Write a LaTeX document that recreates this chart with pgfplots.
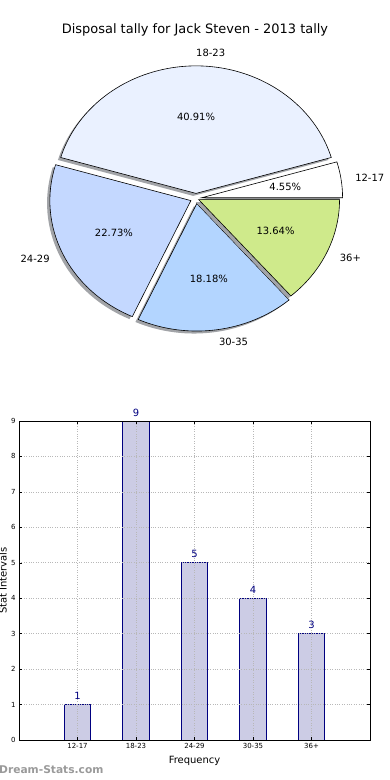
\documentclass[border=0pt]{standalone}
\usepackage{pgfplots}
\pgfplotsset{compat=1.18}
\usepackage{pgfplotstable}
\usepackage{fontspec}
\setmainfont{DejaVu Sans}
\definecolor{w1}{HTML}{FFFFFF}
\definecolor{w2}{HTML}{EAF1FF}
\definecolor{w3}{HTML}{C4D8FF}
\definecolor{w4}{HTML}{B3D5FF}
\definecolor{w5}{HTML}{CFEA8B}
\definecolor{shadowc}{HTML}{A2A4A8}
\definecolor{barfill}{HTML}{CCCCE5}
\definecolor{navy}{HTML}{000080}
\definecolor{gridc}{HTML}{B8B8B8}
\definecolor{wm}{HTML}{9A9A9A}

\pgfplotstableread{
cat   v ex   col
12-17 1 0.04 w1
18-23 9 0.04 w2
24-29 5 0.04 w3
30-35 4 0.04 w4
36+   3 0.02 w5
}\agedata

\begin{document}
\begin{tikzpicture}
\path[use as bounding box] (0,0) rectangle (390bp,780bp);

% ---------------- pie chart ----------------
\begin{axis}[at={(0,390bp)}, anchor=south west, scale only axis,
  width=390bp, height=390bp, xmin=0, xmax=390, ymin=0, ymax=390,
  hide axis, clip=false]
\pgfplotsextra{
  \def\cx{196}\def\cy{191.5}\def\rx{141}\def\ry{127.5}
  \gdef\tot{0}
  \foreach \i in {0,...,4}{%
    \pgfplotstablegetelem{\i}{v}\of\agedata
    \pgfmathsetmacro\t{\tot+\pgfplotsretval}\xdef\tot{\t}%
  }
  \gdef\cum{0}
  \foreach \i in {0,...,4}{%
    \pgfplotstablegetelem{\i}{v}\of\agedata \let\val\pgfplotsretval
    \pgfplotstablegetelem{\i}{ex}\of\agedata \let\ex\pgfplotsretval
    \pgfplotstablegetelem{\i}{col}\of\agedata \let\wcol\pgfplotsretval
    \pgfplotstablegetelem{\i}{cat}\of\agedata \let\cat\pgfplotsretval
    \pgfmathsetmacro\a{360*\cum/\tot}
    \pgfmathsetmacro\b{360*(\cum+\val)/\tot}
    \pgfmathsetmacro\m{(\a+\b)/2}
    \pgfmathsetmacro\cm{cos(\m)}
    \pgfmathsetmacro\ox{\cx+\ex*\rx*cos(\m)}
    \pgfmathsetmacro\oy{\cy+\ex*\ry*sin(\m)}
    \pgfmathsetmacro\sx{\ox-2.8}
    \pgfmathsetmacro\sy{\oy-2.5}
    \fill[shadowc] (axis cs:\sx,\sy) -- ++(\a:\rx bp and \ry bp)
       arc[start angle=\a, end angle=\b, x radius=\rx bp, y radius=\ry bp] -- cycle;
    \filldraw[fill=\wcol, draw=black, line width=0.6bp] (axis cs:\ox,\oy) -- ++(\a:\rx bp and \ry bp)
       arc[start angle=\a, end angle=\b, x radius=\rx bp, y radius=\ry bp] -- cycle;
    \pgfmathsetmacro\lx{\ox+1.1*\rx*cos(\m)}
    \pgfmathsetmacro\ly{\oy+1.1*\ry*sin(\m)}
    \pgfmathsetmacro\px{\ox+0.6*\rx*cos(\m)}
    \pgfmathsetmacro\py{\oy+0.6*\ry*sin(\m)}
    \pgfmathsetmacro\pct{100*\val/\tot}
    \ifdim\cm pt>-0.001pt
      \node[anchor=west, inner sep=0pt, font=\fontsize{10}{12}\selectfont] at (axis cs:\lx,\ly) {\cat};
    \else
      \node[anchor=east, inner sep=0pt, font=\fontsize{10}{12}\selectfont] at (axis cs:\lx,\ly) {\cat};
    \fi
    \node[inner sep=0pt, font=\fontsize{10}{12}\selectfont] at (axis cs:\px,\py)
       {\pgfmathprintnumber[fixed,fixed zerofill,precision=2,assume math mode=true]{\pct}\%};
    \pgfmathsetmacro\c{\cum+\val}\xdef\cum{\c}%
  }
  \node[font=\fontsize{13}{15}\selectfont] at (axis cs:195,360) {Disposal tally for Jack Steven - 2013 tally};
}
\end{axis}

% ---------------- bar chart ----------------
\begin{axis}[at={(19bp,40bp)}, anchor=south west, scale only axis,
  width=351bp, height=319bp,
  xmin=-1, xmax=5, ymin=0, ymax=9,
  xtick={0,...,4}, ytick={0,...,9},
  xticklabels from table={\agedata}{cat},
  tick align=inside, major tick length=3bp,
  tick style={black, line width=0.5bp},
  grid=major, grid style={gridc, dotted, line width=0.6bp},
  axis on top,
  axis line style={black, line width=0.8bp},
  ticklabel style={font=\fontsize{7}{8}\selectfont},
  /pgf/number format/assume math mode=true,
  xlabel={Frequency}, ylabel={Stat Intervals},
  label style={font=\fontsize{10}{12}\selectfont},
  every axis x label/.style={at={(axis description cs:0.5,0)}, anchor=center, yshift=-21bp},
  every axis y label/.style={at={(axis description cs:0,0.5)}, xshift=-16bp, anchor=center, rotate=90},
  clip=false]
\addplot[ybar, bar width=0.45, fill=barfill, draw=navy, line width=0.7bp,
  nodes near coords,
  every node near coord/.style={navy, font=\fontsize{10}{12}\selectfont, anchor=south, yshift=1bp}]
  table[x expr=\coordindex, y=v] {\agedata};
\end{axis}

\node[anchor=west, inner sep=0pt, text=wm, font=\bfseries\fontsize{10.7}{12}\selectfont] at (-1bp,10bp) {Dream-Stats.com};
\end{tikzpicture}
\end{document}
